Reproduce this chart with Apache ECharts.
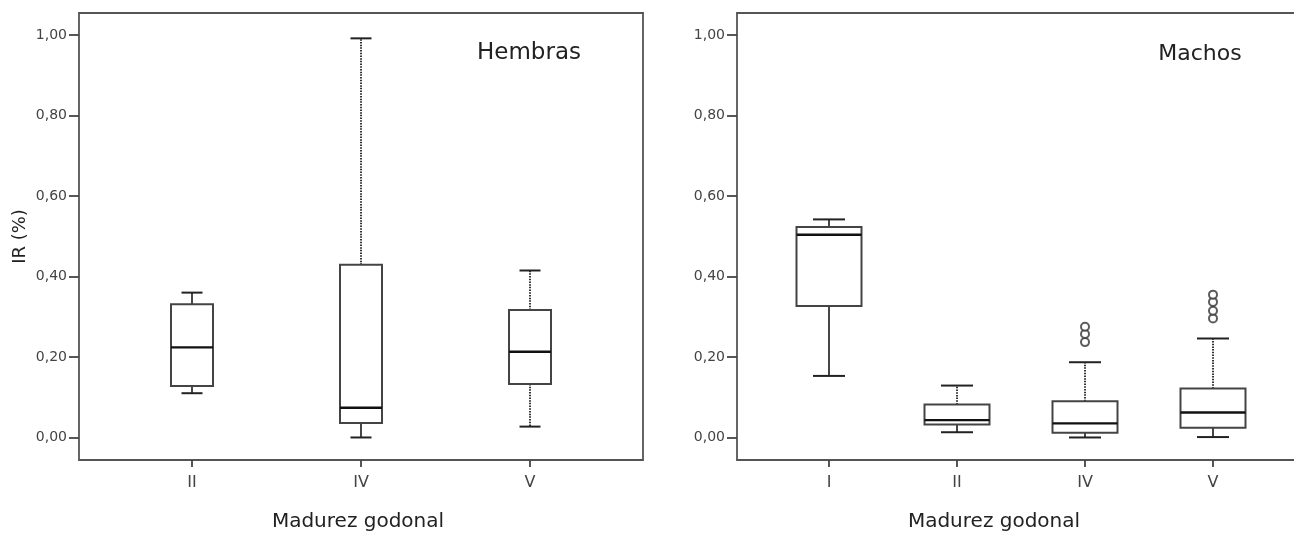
<!DOCTYPE html>
<html>
<head>
<meta charset="utf-8">
<script src="https://cdn.jsdelivr.net/npm/echarts@6/dist/echarts.min.js"></script>
<style>
html, body { margin: 0; background: #fff; }
#chart { width: 1294px; height: 535px; }
</style>
</head>
<body>
<div id="chart"></div>
<script>
// Hembras
const femaleCats = ['II', 'IV', 'V']
// [min, Q1, median, Q3, max]
const femaleBoxes = [
  [0.110, 0.128, 0.224, 0.331, 0.360],
  [0.000, 0.036, 0.074, 0.429, 0.992],
  [0.027, 0.133, 0.213, 0.317, 0.415]
]

// Machos
const maleCats = ['I', 'II', 'IV', 'V']
const maleBoxes = [
  [0.153, 0.327, 0.504, 0.523, 0.542],
  [0.013, 0.032, 0.043, 0.082, 0.129],
  [0.000, 0.012, 0.035, 0.090, 0.187],
  [0.001, 0.024, 0.062, 0.122, 0.246]
]
// [category index, value]
const maleOutliers = [
  [2, 0.237], [2, 0.257], [2, 0.275],
  [3, 0.296], [3, 0.315], [3, 0.337], [3, 0.355]
]

const yTicks = [0, 0.2, 0.4, 0.6, 0.8, 1.0]
const yMin = -0.056
const yMax = 1.055

const FONT = 'DejaVu Sans'
const FRAME = { color: '#555', width: 1.8 }

// which whiskers look dotted in the original [upper, lower]
const femaleDotted = [[false, false], [true, false], [true, true]]
const maleDotted = [[false, false], [true, false], [true, false], [true, false]]

function boxRenderer(boxW, capW, dotted) {
  return function (params, api) {
    const i = api.value(0)
    const pt = k => api.coord([i, api.value(k)])
    const x = pt(1)[0]
    const yLo = pt(1)[1]
    const yQ1 = pt(2)[1]
    const yMed = pt(3)[1]
    const yQ3 = pt(4)[1]
    const yHi = pt(5)[1]
    const d = dotted[i]
    const whisk = dash => dash
      ? { stroke: '#333', lineWidth: 2, lineDash: [1.5, 1.2] }
      : { stroke: '#333', lineWidth: 1.8 }
    const cap = { stroke: '#222', lineWidth: 2 }
    return {
      type: 'group',
      children: [
        { type: 'line', shape: { x1: x, y1: yQ3, x2: x, y2: yHi }, style: whisk(d[0]) },
        { type: 'line', shape: { x1: x, y1: yQ1, x2: x, y2: yLo }, style: whisk(d[1]) },
        { type: 'line', shape: { x1: x - capW / 2, y1: yHi, x2: x + capW / 2, y2: yHi }, style: cap },
        { type: 'line', shape: { x1: x - capW / 2, y1: yLo, x2: x + capW / 2, y2: yLo }, style: cap },
        {
          type: 'rect',
          shape: { x: x - boxW / 2, y: yQ3, width: boxW, height: yQ1 - yQ3 },
          style: { fill: '#fff', stroke: '#444', lineWidth: 2 }
        },
        { type: 'line', shape: { x1: x - boxW / 2, y1: yMed, x2: x + boxW / 2, y2: yMed }, style: { stroke: '#111', lineWidth: 2.4 } }
      ]
    }
  }
}

const fmt = v => v.toFixed(2).replace('.', ',')

function frameY(gridIndex, withName) {
  const ax = {
    gridIndex: gridIndex,
    type: 'value',
    min: yMin,
    max: yMax,
    splitLine: { show: false },
    axisLine: { show: true, lineStyle: FRAME },
    axisTick: { show: true, customValues: yTicks, length: 10, lineStyle: { color: '#444', width: 1.8 } },
    axisLabel: { customValues: yTicks, formatter: fmt, margin: 12, fontSize: 14, color: '#444', fontFamily: FONT }
  }
  if (withName) {
    ax.name = 'IR (%)'
    ax.nameLocation = 'middle'
    ax.nameGap = 50
    ax.nameRotate = 90
    ax.nameTextStyle = { fontSize: 18, color: '#222', fontFamily: FONT }
  }
  return ax
}

// plain frame line (top / bottom / right edge)
function frameLine(kind, gridIndex, position) {
  return {
    gridIndex: gridIndex,
    type: 'value',
    position: position,
    min: kind === 'y' ? yMin : 0,
    max: kind === 'y' ? yMax : 1,
    axisLine: { show: true, onZero: false, lineStyle: FRAME },
    axisTick: { show: false },
    axisLabel: { show: false },
    splitLine: { show: false }
  }
}

function dataX(gridIndex, cats) {
  return {
    gridIndex: gridIndex,
    type: 'category',
    data: cats,
    axisLine: { show: false, onZero: false },
    axisTick: { show: true, alignWithLabel: true, length: 7, lineStyle: { color: '#444', width: 1.8 } },
    axisLabel: { margin: 15, fontSize: 16, color: '#444', fontFamily: FONT }
  }
}

const option = {
  backgroundColor: '#fff',
  animation: false,
  grid: [
    { left: 79, top: 13, width: 564, height: 447, outerBoundsMode: 'none' },
    { left: 107.5, top: 13, width: 507, height: 447, outerBoundsMode: 'none' },
    { left: 737, top: 13, width: 700, height: 447, outerBoundsMode: 'none' },
    { left: 765, top: 13, width: 512, height: 447, outerBoundsMode: 'none' }
  ],
  xAxis: [
    frameLine('x', 0, 'bottom'),
    frameLine('x', 0, 'top'),
    dataX(1, femaleCats),
    frameLine('x', 2, 'bottom'),
    frameLine('x', 2, 'top'),
    dataX(3, maleCats)
  ],
  yAxis: [
    frameY(0, true),
    frameLine('y', 0, 'right'),
    { gridIndex: 1, type: 'value', min: yMin, max: yMax, show: false },
    frameY(2, false),
    { gridIndex: 3, type: 'value', min: yMin, max: yMax, show: false }
  ],
  graphic: [
    { type: 'text', x: 529, y: 53, style: { text: 'Hembras', fontSize: 23, fontFamily: FONT, fill: '#222', textAlign: 'center', textVerticalAlign: 'middle' } },
    { type: 'text', x: 1200, y: 54, style: { text: 'Machos', fontSize: 22, fontFamily: FONT, fill: '#222', textAlign: 'center', textVerticalAlign: 'middle' } },
    { type: 'text', x: 358, y: 522, style: { text: 'Madurez godonal', fontSize: 20, fontFamily: FONT, fill: '#222', textAlign: 'center', textVerticalAlign: 'middle' } },
    { type: 'text', x: 994, y: 522, style: { text: 'Madurez godonal', fontSize: 20, fontFamily: FONT, fill: '#222', textAlign: 'center', textVerticalAlign: 'middle' } }
  ],
  series: [
    {
      type: 'custom',
      xAxisIndex: 2,
      yAxisIndex: 2,
      renderItem: boxRenderer(42, 21, femaleDotted),
      encode: { x: 0, y: [1, 2, 3, 4, 5] },
      data: femaleBoxes.map((b, i) => [i].concat(b))
    },
    {
      type: 'custom',
      xAxisIndex: 5,
      yAxisIndex: 4,
      renderItem: boxRenderer(65, 32, maleDotted),
      encode: { x: 0, y: [1, 2, 3, 4, 5] },
      data: maleBoxes.map((b, i) => [i].concat(b))
    },
    {
      type: 'scatter',
      xAxisIndex: 5,
      yAxisIndex: 4,
      symbol: 'circle',
      symbolSize: 8,
      itemStyle: { color: '#fff', borderColor: '#333', borderWidth: 2 },
      data: maleOutliers
    }
  ]
}

const chart = echarts.init(document.getElementById('chart'))
chart.setOption(option)
</script>
</body>
</html>
